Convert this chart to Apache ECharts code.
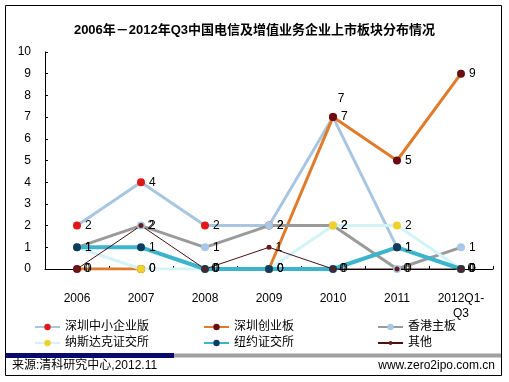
<!DOCTYPE html>
<html>
<head>
<meta charset="utf-8">
<script src="https://cdn.jsdelivr.net/npm/echarts@6/dist/echarts.min.js"></script>
<style>
html,body{margin:0;padding:0;background:#fff;}
#c{width:509px;height:382px;}
</style>
</head>
<body>
<div id="c"></div>
<script>
var categories = ['2006', '2007', '2008', '2009', '2010', '2011', '2012Q1-\nQ3'];
var seriesNames = ['深圳中小企业版', '深圳创业板', '香港主板', '纳斯达克证交所', '纽约证交所', '其他'];
var smeBoard = [2, 4, 2, 2, 7, 1, 0];
var chinext = [0, 0, null, 0, 7, 5, 9];
var hkMain = [1, 2, 1, 2, 2, 0, 1];
var nasdaq = [1, 0, 0, 0, 2, 2, 0];
var nyse = [1, 1, 0, 0, 0, 1, 0];
var others = [0, 2, 0, 1, 0, 0, 0];
var yTicks = [0, 1, 2, 3, 4, 5, 6, 7, 8, 9, 10];

var FONT = '"Liberation Sans", "Noto Sans CJK SC", sans-serif';
var styles = [
  {line: '#a9c6e0', w: 3, mark: '#e01818', size: 8},
  {line: '#e07b2c', w: 3, mark: '#6b0d10', size: 8},
  {line: '#9a9a9a', w: 3, mark: '#a8c8e8', size: 8},
  {line: '#d2f3f8', w: 3, mark: '#f2d02a', size: 8},
  {line: '#3cb4cc', w: 4, mark: '#0d3d5e', size: 8},
  {line: '#4a1010', w: 1, mark: '#6b1a1a', size: 5}
];
var values = [smeBoard, chinext, hkMain, nasdaq, nyse, others];

var series = values.map(function (arr, i) {
  var st = styles[i];
  var data = arr.map(function (v, j) {
    if (i === 0 && j === 4) {
      return {value: v, label: {position: 'top', offset: [8, -4]}};
    }
    return v;
  });
  return {
    name: seriesNames[i],
    type: 'line',
    data: data,
    symbol: 'circle',
    symbolSize: st.size,
    connectNulls: false,
    lineStyle: {color: st.line, width: st.w},
    itemStyle: {color: st.mark},
    label: {show: true, position: 'right', distance: 4, color: '#000', fontSize: 12, fontFamily: FONT},
    emphasis: {disabled: true},
    animation: false
  };
});

var legendPos = [
  {left: 34, top: 321}, {left: 203, top: 321}, {left: 377, top: 321},
  {left: 34, top: 337}, {left: 203, top: 337}, {left: 377, top: 337}
];
var legends = seriesNames.map(function (n, i) {
  return {
    data: [n], left: legendPos[i].left, top: legendPos[i].top,
    itemWidth: 25, itemHeight: i === 5 ? 5 : 8, itemGap: 0, padding: 0,
    textStyle: {fontSize: 12, color: '#000', fontFamily: FONT, lineHeight: 8},
    selectedMode: false
  };
});

var chart = echarts.init(document.getElementById('c'), null, {renderer: 'canvas'});
chart.setOption({
  backgroundColor: '#fff',
  animation: false,
  title: {
    text: '2006年－2012年Q3中国电信及增值业务企业上市板块分布情况',
    left: 'center', top: 19,
    textStyle: {fontSize: 13, fontWeight: 'bold', color: '#000', fontFamily: FONT}
  },
  legend: legends,
  grid: {left: 45, right: 16, top: 52, bottom: 113, containLabel: false},
  xAxis: {
    type: 'category',
    data: categories,
    boundaryGap: true,
    axisLine: {lineStyle: {color: '#000', width: 1}},
    axisTick: {show: true, inside: true, length: 3, lineStyle: {color: '#000'}},
    axisLabel: {color: '#000', fontSize: 12, fontWeight: 'normal', margin: 22, lineHeight: 15, fontFamily: FONT, interval: 0}
  },
  yAxis: {
    type: 'value',
    min: yTicks[0], max: yTicks[yTicks.length - 1], interval: 1,
    axisLine: {show: true, lineStyle: {color: '#000', width: 1}},
    axisTick: {show: true, inside: true, length: 3, lineStyle: {color: '#000'}},
    axisLabel: {color: '#000', fontSize: 12, margin: 14, fontFamily: FONT},
    splitLine: {show: false}
  },
  series: series,
  graphic: [
    {type: 'rect', shape: {x: 5.5, y: 5.5, width: 496, height: 370}, style: {fill: 'none', stroke: '#000', lineWidth: 1}, silent: true},
    {type: 'rect', shape: {x: 6, y: 353, width: 168, height: 5}, style: {fill: '#0a0a6e'}, silent: true},
    {type: 'rect', shape: {x: 174, y: 353.5, width: 327, height: 4}, style: {fill: '#a0a0a0'}, silent: true},
    {type: 'text', x: 12, y: 366, style: {text: '来源:清科研究中心,2012.11', fill: '#000', font: '12px ' + FONT, verticalAlign: 'middle'}, silent: true},
    {type: 'text', x: 495, y: 366, style: {text: 'www.zero2ipo.com.cn', fill: '#000', font: '12px ' + FONT, align: 'right', verticalAlign: 'middle'}, silent: true}
  ]
});
</script>
</body>
</html>
